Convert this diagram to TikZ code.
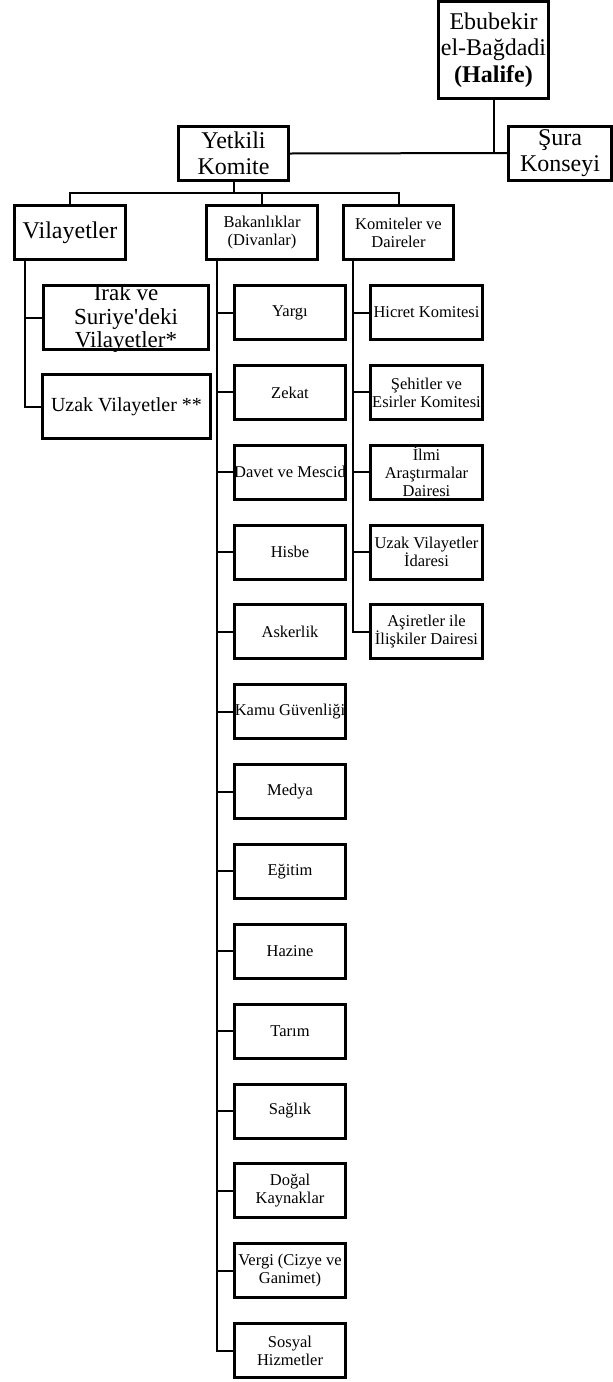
\documentclass[tikz,border=0pt]{standalone}
\usepackage{fontspec}
\setmainfont{Liberation Serif}
\begin{document}
\begin{tikzpicture}[x=1pt,y=-1pt,
  box/.style={draw, line width=3pt, rectangle, inner sep=0pt, align=center, text=black},
  big/.style={font=\fontsize{24}{26.5}\selectfont},
  mid/.style={font=\fontsize{20}{23}\selectfont},
  small/.style={font=\fontsize{16.5}{18}\selectfont},
  conn/.style={line width=2pt}]
\useasboundingbox (0,0) rectangle (613,1382);

% top level
\node[box,big,minimum width=110pt,minimum height=97pt] (ebu) at (493.5,50) {Ebubekir\\el-Bağdadi\\\textbf{(Halife)}};
\node[box,big,minimum width=110pt,minimum height=54pt] (yet) at (233.5,153.5) {Yetkili\\Komite};
\node[box,big,minimum width=103pt,minimum height=54pt] (sura) at (560,153) {Şura\\Konseyi};

% second level
\node[box,big,minimum width=111pt,minimum height=54pt] (vil) at (70,232.5) {Vilayetler};
\node[box,small,minimum width=111pt,minimum height=54pt] (bak) at (262,232.5) {Bakanlıklar\\(Divanlar)};
\node[box,small,minimum width=110pt,minimum height=54pt] (kom) at (398.5,232.5) {Komiteler ve\\Daireler};

% vilayetler children
\node[box,minimum width=165pt,minimum height=64pt] (irak) at (126,317.5) {};
\node[align=center,inner sep=0pt,text=black,font=\fontsize{23}{23.5}\selectfont] (irakt) at ([yshift=-1pt]irak.center) {Irak ve\\Suriye\textquotesingle deki\\Vilayetler*};
\node[box,mid,minimum width=168pt,minimum height=64pt] (uzak) at (126.5,406.5) {Uzak Vilayetler **};

% bakanliklar children
\foreach \t [count=\i from 0] in {{Yargı},{Zekat},{Davet ve Mescid},{Hisbe},{Askerlik},{Kamu Güvenliği},{Medya},{Eğitim},{Hazine},{Tarım},{Sağlık},{Doğal\\Kaynaklar},{Vergi (Cizye ve\\Ganimet)},{Sosyal\\Hizmetler}}{
  \node[box,small,minimum width=111pt,minimum height=54pt] (b\i) at (290,{312.5+79.85*\i}) {\t};
}

% komiteler children
\foreach \t [count=\i from 0] in {{Hicret Komitesi},{Şehitler ve\\Esirler Komitesi},{İlmi\\Araştırmalar\\Dairesi},{Uzak Vilayetler\\İdaresi},{Aşiretler ile\\İlişkiler Dairesi}}{
  \node[box,small,minimum width=112pt,minimum height=54pt] (k\i) at (426.5,{312.5+79.85*\i}) {\t};
}

% connectors top
\draw[conn] (yet.east) -- (sura.west);
\draw[conn] (ebu.south) -- (ebu.south |- sura.west);
\coordinate (bus) at (0,193);
\draw[conn] (yet.south) -- (yet.south |- bus);
\draw[conn] (vil.north) -- (vil.north |- bus) -| (kom.north);
\draw[conn] (bak.north) -- (bak.north |- bus);

% vilayetler trunk
\coordinate (vtop) at ([xshift=-45pt]vil.south);
\draw[conn] (vtop) |- (uzak.west);
\draw[conn] (vtop |- irak.west) -- (irak.west);

% bakanliklar trunk
\coordinate (btop) at ([xshift=-45pt]bak.south);
\draw[conn] (btop) |- (b13.west);
\foreach \i in {0,...,12}{\draw[conn] (btop |- b\i.west) -- (b\i.west);}

% komiteler trunk
\coordinate (ktop) at ([xshift=-45.5pt]kom.south);
\draw[conn] (ktop) |- (k4.west);
\foreach \i in {0,...,3}{\draw[conn] (ktop |- k\i.west) -- (k\i.west);}
\end{tikzpicture}
\end{document}
